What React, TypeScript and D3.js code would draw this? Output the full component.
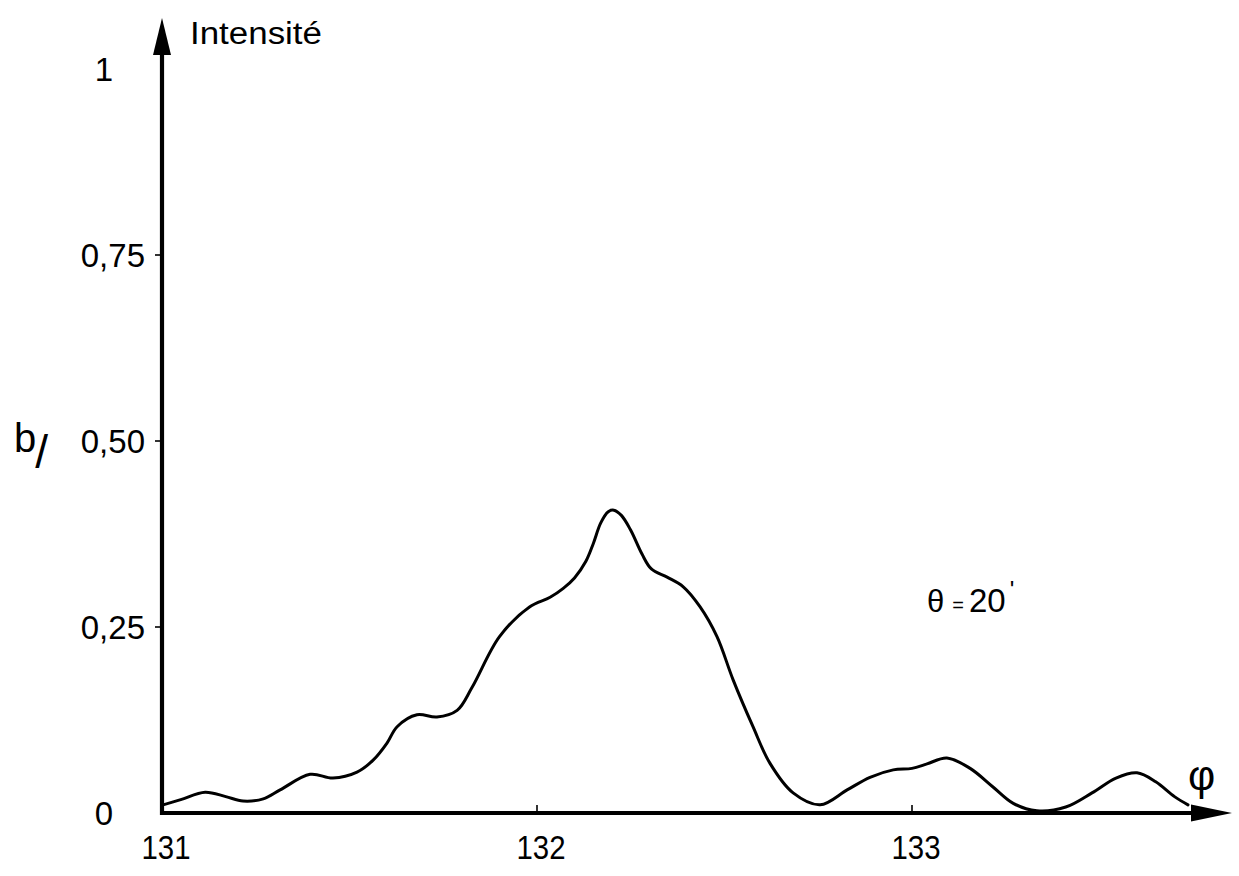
import React from "react";
import * as d3 from "d3";

const phi: number[] = [
  131.003, 131.05, 131.115, 131.17, 131.216, 131.27, 131.315, 131.395, 131.456, 131.52,
  131.563, 131.6, 131.627, 131.68, 131.733, 131.787, 131.827, 131.9, 131.98, 132.035,
  132.07, 132.1, 132.13, 132.15, 132.17, 132.19, 132.205, 132.225, 132.25, 132.28,
  132.305, 132.347, 132.39, 132.435, 132.48, 132.523, 132.576, 132.621, 132.683, 132.755,
  132.827, 132.888, 132.95, 133.0, 133.04, 133.093, 133.155, 133.216, 133.27, 133.333,
  133.41, 133.48, 133.544, 133.6, 133.65, 133.7, 133.736,
];
const intensity: number[] = [
  0.011, 0.018, 0.028, 0.022, 0.016, 0.019, 0.031, 0.052, 0.047, 0.055,
  0.071, 0.094, 0.116, 0.132, 0.129, 0.138, 0.169, 0.237, 0.277, 0.29,
  0.302, 0.316, 0.338, 0.362, 0.39, 0.405, 0.407, 0.4, 0.38, 0.348,
  0.328, 0.317, 0.304, 0.277, 0.237, 0.179, 0.116, 0.067, 0.027, 0.011,
  0.031, 0.048, 0.058, 0.06, 0.066, 0.074, 0.06, 0.035, 0.013, 0.003,
  0.008, 0.027, 0.047, 0.054, 0.042, 0.022, 0.011,
];
const xTicks: number[] = [131, 132, 133];
const xTickLabels: string[] = ["131", "132", "133"];
const yTicks: number[] = [0, 0.25, 0.5, 0.75, 1];
const yTickLabels: string[] = ["0", "0,25", "0,50", "0,75", "1"];

const W = 1239;
const H = 876;
const FONT = "'Liberation Sans', Arial, sans-serif";

export default function App() {
  const x = d3.scaleLinear().domain([131, 133]).range([162, 912]);
  const y = d3.scaleLinear().domain([0, 1]).range([813, 69]);
  const x0 = x(131);
  const y0 = y(0);

  const pts: [number, number][] = phi.map((p, i) => [x(p), y(intensity[i])]);
  const line = d3.line<[number, number]>().curve(d3.curveCatmullRom.alpha(0.5));
  const d = line(pts) || "";

  const yArrowTip = 18;
  const yArrowBase = 53;
  const xArrowTip = 1232;
  const xArrowBase = 1193;

  return (
    <svg
      width={W}
      height={H}
      viewBox={`0 0 ${W} ${H}`}
      style={{ position: "absolute", left: 0, top: 0, background: "#fff" }}
    >
      <rect x={0} y={0} width={W} height={H} fill="#fff" />
      {/* axes */}
      <line x1={x0} y1={y0 + 2} x2={x0} y2={yArrowBase} stroke="#000" strokeWidth={4.2} />
      <line x1={x0 - 2} y1={y0} x2={xArrowBase} y2={y0} stroke="#000" strokeWidth={4.2} />
      <path
        d={`M${x0},${yArrowTip} L${x0 - 9},${yArrowBase + 2} L${x0 + 9},${yArrowBase + 2} Z`}
        fill="#000"
      />
      <path
        d={`M${xArrowTip},${y0} L${xArrowBase - 2},${y0 - 8.5} L${xArrowBase - 2},${y0 + 8.5} Z`}
        fill="#000"
      />
      {/* y ticks */}
      {yTicks.map((t, i) =>
        t > 0 && t < 1 ? (
          <line key={"yt" + i} x1={x0 - 7} x2={x0} y1={y(t)} y2={y(t)} stroke="#000" strokeWidth={1.6} />
        ) : null
      )}
      {yTicks.map((t, i) => {
        const edge = t === 0 || t === 1 ? 113 : 145;
        return (
          <text
            key={"yl" + i}
            x={edge}
            y={y(t) + 12}
            textAnchor="end"
            fontFamily={FONT}
            fontSize={33}
            fill="#000"
          >
            {yTickLabels[i]}
          </text>
        );
      })}
      {/* x ticks */}
      {xTicks.map((t, i) =>
        t > 131 ? (
          <line key={"xt" + i} x1={x(t)} x2={x(t)} y1={y0} y2={y0 - 8} stroke="#000" strokeWidth={1.6} />
        ) : null
      )}
      {xTicks.map((t, i) => (
        <text
          key={"xl" + i}
          x={x(t) + 4}
          y={859}
          textAnchor="middle"
          fontFamily={FONT}
          fontSize={33}
          textLength={49}
          lengthAdjust="spacingAndGlyphs"
          fill="#000"
        >
          {xTickLabels[i]}
        </text>
      ))}
      {/* curve */}
      <path d={d} fill="none" stroke="#000" strokeWidth={3} strokeLinejoin="round" strokeLinecap="round" />
      {/* labels */}
      <text
        x={190}
        y={44}
        fontFamily={FONT}
        fontSize={31}
        textLength={132}
        lengthAdjust="spacingAndGlyphs"
        fill="#000"
      >
        Intensité
      </text>
      <text x={1188} y={790} fontFamily={FONT} fontSize={42} fill="#000">
        φ
      </text>
      <text x={14} y={452} fontFamily={FONT} fontSize={40} fill="#000">
        b<tspan dx={-1} dy={16} fontSize={46}>/</tspan>
      </text>
      <text x={927} y={612} fontFamily={FONT} fontSize={31} fill="#000">
        θ<tspan dx={8} fontSize={20}>=</tspan>
        <tspan dx={5} fontSize={33}>20</tspan>
        <tspan dx={4} dy={-14} fontSize={24}>'</tspan>
      </text>
    </svg>
  );
}
